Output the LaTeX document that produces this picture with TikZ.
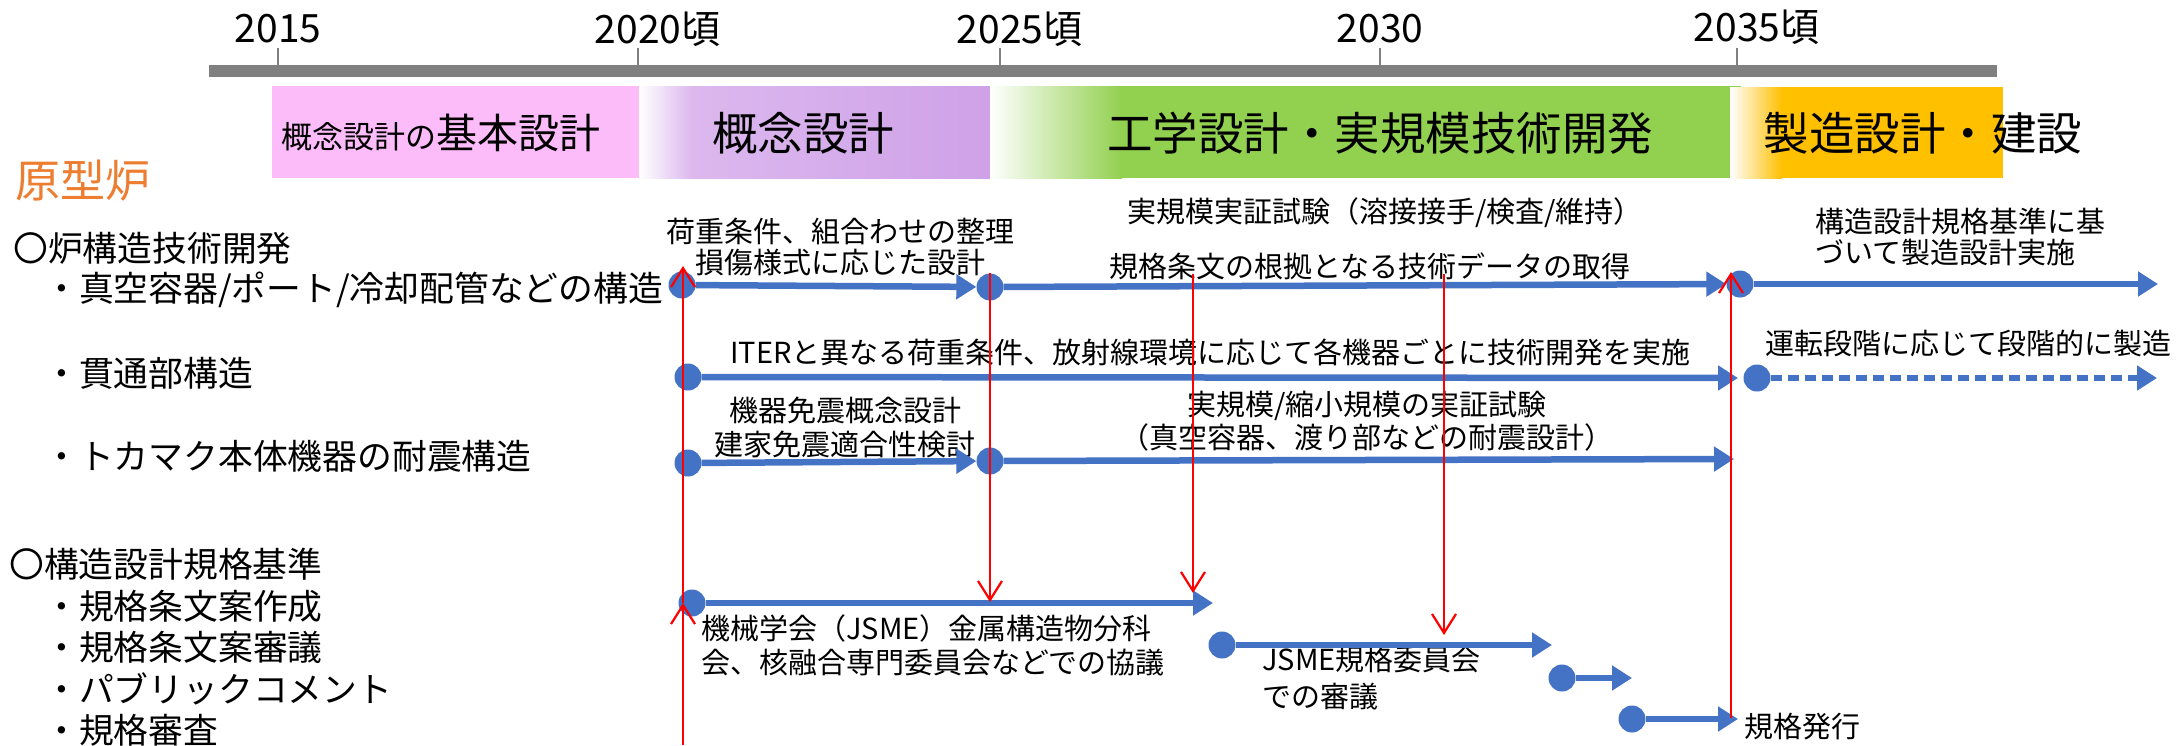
\documentclass[tikz,border=0pt]{standalone}
\usepackage{fontspec}
\setmainfont{Noto Sans CJK JP}
\usetikzlibrary{arrows.meta}
\definecolor{planblue}{HTML}{4472C4}
\definecolor{phasepink}{HTML}{FCBBF9}
\definecolor{lavlight}{HTML}{DCB8EE}
\definecolor{lavdark}{HTML}{CFA1E8}
\definecolor{phasegreen}{HTML}{92D050}
\definecolor{phaseorange}{HTML}{FFC000}
\definecolor{protoorange}{HTML}{ED7D31}
\tikzset{
  yearlabel/.style={inner sep=0pt,font=\fontsize{39}{39}\selectfont},
  phasetext/.style={inner sep=0pt,font=\fontsize{45.5}{46}\selectfont},
  rowhead/.style={anchor=west,inner sep=0pt,font=\fontsize{34.8}{35}\selectfont},
  note/.style={inner sep=0pt,font=\fontsize{29}{34}\selectfont},
  bluedot/.style={circle,fill=planblue,inner sep=0pt,minimum size=27pt},
  plan/.style={draw=planblue,line width=6.5pt,-{Triangle[length=20pt,width=24pt]}},
  link/.style={draw=red,line width=2.2pt,-{Straight Barb[length=19pt,width=24pt]}},
  yeartick/.style={draw=gray,line width=1.5pt}
}
\begin{document}
\begin{tikzpicture}[x=1pt,y=-1pt]
  \useasboundingbox (0,0) rectangle (2181,745);
  \fill[phasepink] (272,86) rectangle (639,178);
  \shade[left color=white,right color=lavlight] (639,86) rectangle (692,178);
  \shade[left color=lavlight,right color=lavdark] (692,86) rectangle (990,178);
  \shade[left color=white,right color=phasegreen] (990,86) rectangle (1122,178);
  \fill[phasegreen] (1122,86) rectangle (1741,178);
  \shade[left color=white,right color=phaseorange] (1730,87) rectangle (1782,178);
  \fill[phaseorange] (1782,87) rectangle (2003,178);
  \fill[gray] (209,65) rectangle (1997,77);
  \draw[yeartick] (278,48) -- (278,65);
  \draw[yeartick] (638,48) -- (638,65);
  \draw[yeartick] (1000,48) -- (1000,65);
  \draw[yeartick] (1380,48) -- (1380,65);
  \draw[yeartick] (1737,48) -- (1737,65);
  \path
    (278,29) node[yearlabel] (y2015) {2015}
    (638,29) node[yearlabel] (y2020) {2020\rlap{頃}}
    (1000,29) node[yearlabel] (y2025) {2025\rlap{頃}}
    (1380,29) node[yearlabel] (y2030) {2030}
    (1737,27) node[yearlabel] (y2035) {2035\rlap{頃}};
  \path
    (441,133) node[inner sep=0pt] (p1) {{\fontsize{31}{31}\selectfont 概念設計の}{\fontsize{41}{41}\selectfont 基本設計}}
    (803,133) node[phasetext] (p2) {概念設計}
    (1380,133) node[phasetext] (p3) {工学設計・実規模技術開発}
    (1923,133) node[phasetext] (p4) {製造設計・建設};
  \node[anchor=west,inner sep=0pt,text=protoorange,font=\fontsize{45}{45}\selectfont] (proto) at (15,181) {原型炉};
  \path
    (13,248) node[rowhead] (h1) {〇炉構造技術開発}
    (44,290) node[rowhead] (h11) {・真空容器/ポート/冷却配管などの構造}
    (44,373) node[rowhead] (h12) {・貫通部構造}
    (44,456) node[rowhead] (h13) {・トカマク本体機器の耐震構造}
    (9,564) node[rowhead] (h2) {〇構造設計規格基準}
    (44,606) node[rowhead] (h21) {・規格条文案作成}
    (44,647) node[rowhead] (h22) {・規格条文案審議}
    (44,689) node[rowhead] (h23) {・パブリックコメント}
    (44,730) node[rowhead] (h24) {・規格審査};
  \path
    (840,247) node[note,align=center] (n1) {荷重条件、組合わせの整理\\[-3pt]損傷様式に応じた設計}
    (1385,213) node[note] (n2) {実規模実証試験（溶接接手/検査/維持）}
    (1370,266) node[note] (n3) {規格条文の根拠となる技術データの取得}
    (1815,237) node[note,anchor=west,align=left] (n4) {構造設計規格基準に基\\[-3pt]づいて製造設計実施}
    (730,352) node[note,anchor=west] (n5) {ITERと異なる荷重条件、放射線環境に応じて各機器ごとに技術開発を実施}
    (1765,343) node[note,anchor=west] (n6) {運転段階に応じて段階的に製造}
    (845,427) node[note,align=center] (n7) {機器免震概念設計\\建家免震適合性検討}
    (1367,421) node[note,align=center] (n8) {実規模/縮小規模の実証試験\\[-1pt]（真空容器、渡り部などの耐震設計）}
    (701,645) node[note,anchor=west,align=left] (n9) {機械学会（JSME）金属構造物分科\\会、核融合専門委員会などでの協議}
    (1262,678) node[note,anchor=west,align=left] (n10) {JSME規格委員会\\[3pt]での審議}
    (1744,727) node[note,anchor=west] (n11) {規格発行};
  \path
    (682,285) node[bluedot] (d11) {}
    (990,287) node[bluedot] (d12) {}
    (1740,284) node[bluedot] (d13) {}
    (688,377) node[bluedot] (d21) {}
    (1757,378) node[bluedot] (d22) {}
    (688,463) node[bluedot] (d31) {}
    (990,461) node[bluedot] (d32) {}
    (692,603) node[bluedot] (s1) {}
    (1222,645) node[bluedot] (s2) {}
    (1562,678) node[bluedot] (s3) {}
    (1632,719) node[bluedot] (s4) {};
  \coordinate (e13) at (2158,284);
  \coordinate (e21) at (1738,378);
  \coordinate (e22) at (2157,378);
  \coordinate (e32) at (1734,459);
  \coordinate (f1) at (1213,603);
  \coordinate (f2) at (1552,645);
  \coordinate (f3) at (1632,678);
  \coordinate (f4) at (1738,719);
  \begin{scope}[plan]
    \draw (d11) to (d12);
    \draw (d12) to (d13);
    \draw (d13) to (e13);
    \draw (d21) to (e21);
    \draw[dash pattern=on 11pt off 6pt] (d22) to (e22);
    \draw (d31) to (d32);
    \draw (d32) to (e32);
    \draw (s1) to (f1);
    \draw (s2) to (f2);
    \draw (s3) to (f3);
    \draw (s4) to (f4);
  \end{scope}
  \coordinate (r1a) at (683,745);
  \coordinate (r1b) at (683,603);
  \coordinate (r1c) at (683,266);
  \coordinate (r2a) at (990,273);
  \coordinate (r2b) at (990,602);
  \coordinate (r3a) at (1193,274);
  \coordinate (r3b) at (1193,593);
  \coordinate (r4a) at (1444,274);
  \coordinate (r4b) at (1444,635);
  \coordinate (r5a) at (1731,718);
  \coordinate (r5b) at (1731,272);
  \begin{scope}[link]
    \draw (r1a) to (r1b);
    \draw (r1b) to (r1c);
    \draw (r2a) to (r2b);
    \draw (r3a) to (r3b);
    \draw (r4a) to (r4b);
    \draw (r5a) to (r5b);
  \end{scope}
\end{tikzpicture}
\end{document}
